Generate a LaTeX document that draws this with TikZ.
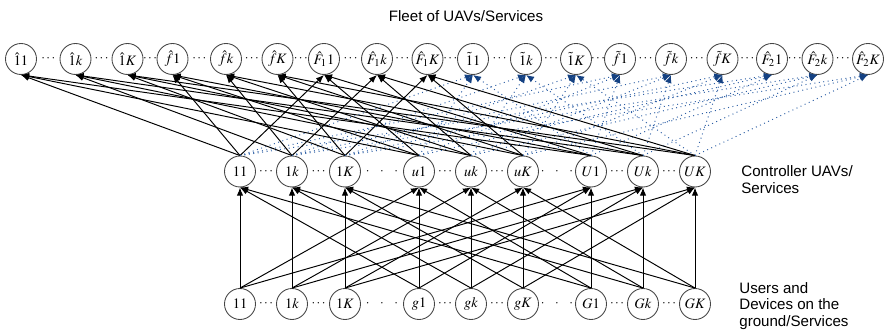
\documentclass[tikz,border=0pt]{standalone}
\usepackage{mathptmx}
\usepackage[no-math]{fontspec}
\setmainfont{Liberation Serif}
\newfontfamily\lblfont{Liberation Sans}
\usepackage{tikz}
\usetikzlibrary{arrows.meta}
\definecolor{uavblue}{RGB}{45,95,165}
\definecolor{uavnavy}{RGB}{20,65,130}
\definecolor{ringgray}{RGB}{70,70,70}

\tikzset{
  uav/.style={circle, draw=ringgray, line width=0.5pt, minimum size=0.62cm, inner sep=0pt,
    font=\fontsize{8.2}{9}\selectfont},
  uplink/.style={-{Latex[length=4.6pt,width=3.6pt]}, line width=0.55pt, black},
  bluelink/.style={-{Latex[length=4.6pt,width=3.8pt,color=uavnavy]}, line width=0.55pt,
    uavblue, dotted},
  dotsep/.style={font=\fontsize{7.5}{9}\selectfont, inner sep=0pt},
  lbl/.style={font=\lblfont\fontsize{8.6}{9.6}\selectfont, align=left, inner sep=0pt}
}

\begin{document}
\begin{tikzpicture}[x=0.02cm, y=-0.02cm]
\useasboundingbox (0,0) rectangle (885,333);

% fleet of UAVs/services
\foreach \x/\lab [count=\i] in {21/{\hat{1}1}, 75.5/{\hat{1}k}, 127.5/{\hat{1}K},
    172.5/{\hat{f}1}, 226/{\hat{f}k}, 277.5/{\hat{f}K},
    324/{\hat{F}_1 1}, 377/{\hat{F}_1 k}, 427.5/{\hat{F}_1 K},
    473/{\tilde{1}1}, 526/{\tilde{1}k}, 576/{\tilde{1}K},
    620/{\tilde{f}1}, 671/{\tilde{f}k}, 722.5/{\tilde{f}K},
    772/{\hat{F}_2 1}, 817.5/{\hat{F}_2 k}, 868/{\hat{F}_2 K}}
  \node[uav] (t\i) at (\x,59) {$\lab$};

% controllers
\foreach \x/\lab [count=\i] in {240/11, 292/1k, 345/1K, 419/u1, 471/uk, 523/uK,
    591/U1, 643/Uk, 695/UK}
  \node[uav] (m\i) at (\x,171.5) {$\lab$};

% users and devices
\foreach \x/\lab [count=\i] in {240/11, 292/1k, 345/1K, 419/g1, 471/gk, 523/gK,
    591/G1, 643/Gk, 695/GK}
  \node[uav] (b\i) at (\x,304) {$\lab$};

% dots
\foreach \i [evaluate=\i as \j using int(\i+1)] in {1,...,17}
  \path (t\i) -- node[dotsep]{$\cdots$} (t\j);
\foreach \i/\j in {1/2, 2/3, 4/5, 5/6, 7/8, 8/9} {
  \path (m\i) -- node[dotsep]{$\cdots$} (m\j);
  \path (b\i) -- node[dotsep]{$\cdots$} (b\j);
}
\foreach \i/\j in {3/4, 6/7} {
  \path (m\i) -- node[dotsep]{$\cdot$\hspace{6pt}$\cdot$\hspace{6pt}$\cdot$} (m\j);
  \path (b\i) -- node[dotsep]{$\cdot$\hspace{6pt}$\cdot$\hspace{6pt}$\cdot$} (b\j);
}

% links, same k
\foreach \a in {0,1,2}
  \foreach \k in {1,2,3}
    \foreach \g in {0,1,2} {
      \pgfmathtruncatemacro\s{3*\a+\k}
      \pgfmathtruncatemacro\t{3*\g+\k}
      \pgfmathtruncatemacro\u{3*\g+\k+9}
      \draw[uplink] (b\s.north) -- (m\t.south);
      \draw[uplink] (m\s.north) -- (t\t.south);
      \draw[bluelink] (m\s.north) -- (t\u.south);
    }

\node[lbl, anchor=base] (fleet) at (466,22) {Fleet of UAVs/Services};
\node[lbl, anchor=west] (ctrl) at (741,180) {Controller UAVs/\\Services};
\node[lbl, anchor=west] (users) at (739,306) {Users and\\Devices on the\\ground/Services};
\end{tikzpicture}
\end{document}
